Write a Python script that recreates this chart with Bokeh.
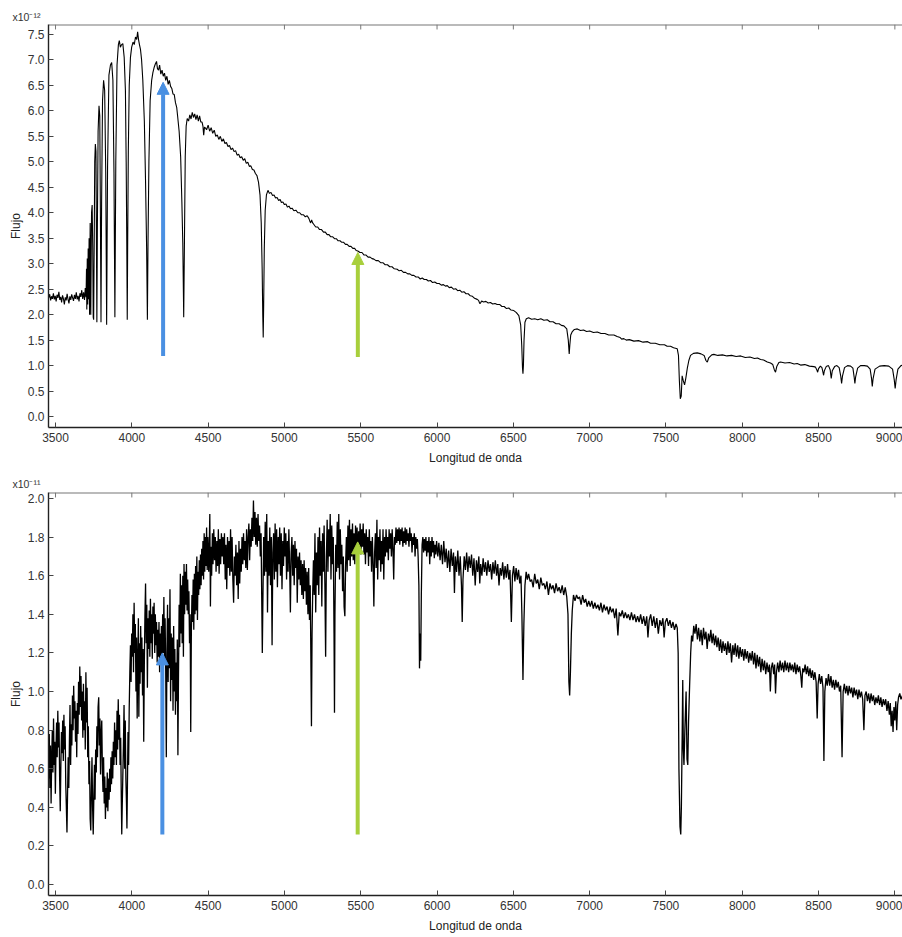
from bokeh.plotting import figure
from bokeh.models import Range1d, FixedTicker, Title, Arrow, NormalHead, PrintfTickFormatter
from bokeh.layouts import column
from bokeh.embed import file_html
from bokeh.resources import INLINE

FONT = "Liberation Sans"

# ---------------- data ----------------
x_ticks = [3500, 4000, 4500, 5000, 5500, 6000, 6500, 7000, 7500, 8000, 8500, 9000]
top_y_ticks = [0.0, 0.5, 1.0, 1.5, 2.0, 2.5, 3.0, 3.5, 4.0, 4.5, 5.0, 5.5, 6.0, 6.5, 7.0, 7.5]
bot_y_ticks = [0.0, 0.2, 0.4, 0.6, 0.8, 1.0, 1.2, 1.4, 1.6, 1.8, 2.0]
x_label = "Longitud de onda"
y_label = "Flujo"
top_exponent = "-12"
bot_exponent = "-11"

# top spectrum (x1e-12): hot star with Balmer lines
top_uv = [(3455,2.33),(3462,2.40),(3468,2.28),(3474,2.36),(3480,2.31),(3486,2.42),(3492,2.30),(3498,2.37),
          (3504,2.26),(3510,2.39),(3516,2.33),(3522,2.45),(3528,2.29),(3534,2.35),(3540,2.24),(3546,2.38),
          (3552,2.31),(3558,2.20),(3564,2.34),(3570,2.28),(3576,2.41),(3582,2.30),(3588,2.22),(3594,2.36),
          (3600,2.29),(3606,2.40),(3612,2.33),(3618,2.27),(3624,2.39),(3630,2.31),(3636,2.44),(3642,2.30),
          (3648,2.37),(3654,2.26),(3660,2.42),(3666,2.35),(3672,2.48),(3678,2.31),(3684,2.44),(3690,2.29),
          (3695,2.52),(3700,2.34)]
top_balmer = [(3703,2.9),(3705,2.1),(3708,3.1),(3711,2.2),(3714,3.3),(3717,2.3),(3720,3.5),(3723,2.0),
              (3727,3.8),(3731,2.0),(3736,4.0),(3740,4.15),(3744,3.3),(3747,1.95),(3750,1.9),(3753,3.2),
              (3757,5.0),(3761,5.35),(3765,5.2),(3768,3.5),(3771,1.85),(3774,3.6),(3779,5.6),(3785,6.1),
              (3790,5.9),(3794,4.0),(3798,1.85),(3802,4.2),(3808,6.2),(3815,6.6),(3822,6.4),(3829,4.8),
              (3835,1.8),(3841,4.9),(3850,6.7),(3860,6.9),(3868,6.95),(3876,6.6),(3883,4.8),(3889,1.95),
              (3895,5.0),(3903,6.9),(3912,7.3),(3918,7.38),(3925,7.25),(3933,7.3),(3941,7.32),(3950,7.05),
              (3958,6.4),(3963,5.0),(3967,3.4),(3970,1.9),(3973,3.5),(3977,5.2),(3983,6.5),(3991,7.05),
              (3999,7.25),(4008,7.35),(4016,7.3),(4024,7.45),(4032,7.4),(4038,7.55),(4044,7.4),(4050,7.3),
              (4057,7.2),(4064,7.0),(4072,6.6),(4082,5.8),(4090,4.6),(4097,3.3),(4102,1.9),(4106,3.4),
              (4112,5.0),(4120,6.2),(4130,6.6),(4138,6.75),(4146,6.85),(4154,6.92),(4162,6.97),(4168,6.83),
              (4175,6.8),(4182,6.9),(4190,6.72),(4198,6.8),(4206,6.68),(4214,6.74),(4222,6.6),(4230,6.68),
              (4238,6.52),(4246,6.6),(4254,6.48),(4262,6.44),(4270,6.33),(4278,6.32),(4286,6.16),(4294,6.07),
              (4300,5.9),(4310,5.6),(4320,5.1),(4328,4.2),(4334,3.4),(4340,1.95),(4345,3.5),(4350,5.1),
              (4356,5.7),(4363,5.85),(4372,5.8),(4380,5.92),(4388,5.84),(4396,5.97),(4404,5.87),(4412,5.94),
              (4420,5.83),(4428,5.92),(4436,5.8),(4444,5.9),(4452,5.78),(4460,5.78),(4466,5.7),(4471,5.52),
              (4476,5.68),(4483,5.66)]
top_visible = [(4490,5.63),(4500,5.72),(4510,5.60),(4520,5.67),(4530,5.56),(4540,5.62),(4550,5.50),(4560,5.53),
               (4570,5.44),(4580,5.50),(4590,5.40),(4600,5.45),(4610,5.36),(4620,5.38),(4630,5.30),(4640,5.32),
               (4650,5.24),(4660,5.27),(4670,5.20),(4680,5.22),(4690,5.13),(4700,5.15),(4710,5.08),(4720,5.10),
               (4730,5.03),(4740,5.06),(4750,4.97),(4760,4.99),(4770,4.91),(4780,4.92),(4790,4.85),(4800,4.84),
               (4810,4.77),(4820,4.73),(4830,4.60),(4840,4.35),(4848,3.80),(4854,2.90),(4858,2.00),(4861,1.55),
               (4864,2.20),(4868,3.30),(4874,4.05),(4882,4.35),(4892,4.44),(4902,4.38),(4912,4.40),(4922,4.34),
               (4932,4.35),(4942,4.29),(4952,4.30),(4962,4.24),(4972,4.26),(4980,4.20),(4990,4.21),(5000,4.16),
               (5010,4.17),(5020,4.11),(5030,4.13),(5040,4.08),(5050,4.09),(5062,4.04),(5075,4.05),(5088,4.00),
               (5100,4.00),(5112,3.96),(5125,3.96),(5137,3.92),(5149,3.94),(5160,3.89),(5166,3.84),(5172,3.80),
               (5178,3.86),(5185,3.80),(5193,3.77),(5205,3.72),(5218,3.72),(5230,3.67),(5243,3.67),(5256,3.62),
               (5268,3.62),(5280,3.57),(5292,3.57),(5302,3.53),(5315,3.53),(5328,3.49),(5340,3.49),(5352,3.45),
               (5364,3.45),(5376,3.42),(5388,3.42),(5400,3.38),(5411,3.38),(5424,3.34),(5436,3.34),(5448,3.30),
               (5460,3.30),(5470,3.26),(5481,3.25),(5495,3.22),(5508,3.22),(5522,3.17),(5535,3.17),(5548,3.13),
               (5561,3.13),(5574,3.10),(5586,3.09),(5600,3.06),(5615,3.06),(5630,3.02),(5645,3.02),(5660,2.98),
               (5675,2.98),(5690,2.94),(5705,2.94),(5720,2.90),(5739,2.89),(5752,2.86),(5766,2.87),(5780,2.83),
               (5794,2.83),(5808,2.80),(5822,2.80),(5835,2.77),(5848,2.77),(5862,2.74),(5876,2.74),(5890,2.70),
               (5903,2.72),(5916,2.69),(5930,2.69),(5943,2.66),(5957,2.67),(5971,2.63),(5985,2.64),(6000,2.61),
               (6014,2.61),(6028,2.58),(6042,2.59),(6055,2.56),(6067,2.57),(6080,2.53),(6094,2.54),(6108,2.50),
               (6122,2.51),(6135,2.47),(6149,2.48),(6162,2.44),(6176,2.45),(6190,2.41),(6204,2.41),(6218,2.37),
               (6232,2.36),(6246,2.32),(6263,2.30),(6272,2.28),(6280,2.22),(6285,2.23),(6292,2.27),(6305,2.25),
               (6320,2.26),(6335,2.23),(6350,2.24),(6365,2.21),(6380,2.22),(6394,2.20),(6410,2.20),(6425,2.16),
               (6440,2.16),(6455,2.12),(6470,2.13),(6485,2.09),(6503,2.08),(6520,2.04),(6536,1.98),(6548,1.80),
               (6555,1.40),(6560,0.95),(6563,0.84),(6566,1.00),(6570,1.50),(6576,1.85),(6585,1.92),(6600,1.94),
               (6620,1.91),(6640,1.92),(6660,1.90),(6680,1.92),(6700,1.89),(6722,1.90),(6740,1.86),(6760,1.86),
               (6780,1.82),(6800,1.82),(6815,1.79),(6831,1.78),(6850,1.72),(6860,1.50),(6866,1.23),(6870,1.40),
               (6876,1.60),(6885,1.66),(6900,1.71),(6919,1.72),(6940,1.69),(6960,1.70),(6980,1.67),(7000,1.68),
               (7025,1.65),(7050,1.66),(7075,1.63),(7100,1.63),(7125,1.60),(7159,1.60),(7180,1.57),(7200,1.55),
               (7210,1.52),(7224,1.53),(7240,1.50),(7260,1.51),(7290,1.48),(7320,1.49),(7350,1.46),(7380,1.47),
               (7399,1.44),(7430,1.44),(7460,1.41),(7490,1.41),(7508,1.38),(7530,1.38),(7550,1.35),(7574,1.33)]
top_red = [(7582,1.20),(7588,0.70),(7594,0.35),(7600,0.40),(7606,0.80),(7614,0.70),(7622,0.62),(7630,0.75),
           (7640,0.95),(7650,1.10),(7661,1.20),(7680,1.24),(7705,1.25),(7730,1.23),(7750,1.20),(7762,1.10),
           (7771,1.07),(7780,1.15),(7800,1.21),(7814,1.22),(7840,1.20),(7870,1.21),(7900,1.19),(7930,1.20),
           (7960,1.18),(7989,1.19),(8020,1.16),(8050,1.17),(8080,1.14),(8100,1.15),(8120,1.12),(8140,1.11),
           (8164,1.07),(8185,1.05),(8200,1.02),(8210,0.92),(8218,0.87),(8226,0.98),(8240,1.06),(8251,1.07),
           (8280,1.05),(8310,1.06),(8340,1.03),(8360,1.04),(8382,1.01),(8410,1.02),(8440,0.99),(8469,0.98),
           (8480,0.97),(8488,0.92),(8494,0.87),(8500,0.94),(8512,0.99),(8522,0.96),(8528,0.88),(8533,0.81),
           (8538,0.90),(8550,0.98),(8565,1.00),(8576,0.92),(8583,0.75),(8590,0.90),(8605,0.98),(8620,1.00),
           (8635,0.96),(8645,0.80),(8651,0.65),(8657,0.80),(8670,0.96),(8690,1.00),(8710,0.99),(8725,0.95),
           (8733,0.78),(8738,0.65),(8743,0.78),(8756,0.95),(8775,1.00),(8800,1.00),(8820,0.99),(8838,0.93),
           (8847,0.75),(8852,0.59),(8857,0.74),(8870,0.93),(8900,0.99),(8930,1.00),(8960,0.99),(8985,0.93),
           (8996,0.72),(9002,0.55),(9008,0.72),(9020,0.93),(9040,1.00),(9060,1.01)]

# bottom spectrum (x1e-11): cool star with many metal lines
bot_uv = [(3455,0.55),(3459,0.78),(3463,0.50),(3467,0.72),(3471,0.42),(3475,0.66),(3479,0.80),(3483,0.58),
          (3487,0.86),(3491,0.62),(3495,0.74),(3499,0.47),(3503,0.70),(3507,0.84),(3511,0.66),(3515,0.90),
          (3519,0.71),(3523,0.84),(3527,0.55),(3531,0.38),(3535,0.62),(3539,0.79),(3543,0.68),(3547,0.85),
          (3551,0.64),(3555,0.88),(3559,0.70),(3563,0.82),(3567,0.52),(3571,0.40),(3575,0.27),(3579,0.48),
          (3583,0.66),(3587,0.50),(3591,0.74),(3595,0.93),(3599,0.62),(3603,0.83),(3607,0.72),(3611,0.98),
          (3615,0.80),(3619,1.03),(3623,0.86),(3627,0.95),(3631,0.74),(3635,0.90),(3639,0.66),(3643,0.94),
          (3647,0.78),(3651,1.05),(3655,0.88),(3659,1.13),(3663,0.92),(3667,1.08),(3671,0.85),(3675,1.00),
          (3679,0.76),(3683,1.04),(3687,0.80),(3691,0.95),(3695,0.70),(3699,1.10),(3703,0.84),(3707,1.02),
          (3711,0.66),(3715,0.82),(3719,0.52),(3723,0.64),(3727,0.34),(3731,0.28),(3735,0.50),(3739,0.66),
          (3743,0.40),(3747,0.26),(3751,0.45),(3755,0.62),(3759,0.44),(3763,0.70),(3767,0.58),(3771,0.82),
          (3775,0.66),(3779,0.92),(3783,0.97),(3787,0.72),(3791,0.86),(3795,0.57),(3799,0.78),(3803,0.85),
          (3807,0.60),(3811,0.48),(3815,0.66),(3819,0.42),(3823,0.56),(3827,0.34),(3831,0.50),(3835,0.40),
          (3839,0.58),(3843,0.38),(3847,0.55),(3851,0.44),(3855,0.60),(3859,0.48),(3863,0.66),(3867,0.52),
          (3871,0.69),(3875,0.55),(3879,0.74),(3883,0.62),(3887,0.84),(3891,0.66),(3895,0.80),(3899,0.62),
          (3903,0.90),(3907,0.70),(3911,0.96),(3915,0.75),(3919,0.88),(3923,0.62),(3927,0.76),(3931,0.45),
          (3934,0.26),(3937,0.40),(3941,0.56),(3945,0.72),(3949,0.93),(3953,0.60),(3957,0.85),(3961,0.55),
          (3965,0.42),(3968,0.29),(3971,0.50),(3975,0.79),(3979,0.62),(3983,0.92),(3987,1.10),(3991,1.24),
          (3995,1.05),(3999,1.30)]
bot_blue = [(4003,1.18),(4007,1.40),(4011,1.10),(4015,1.46),(4019,1.20),(4023,1.35),(4027,1.00),(4031,1.28),
            (4035,0.86),(4039,1.15),(4043,1.38),(4046,0.87),(4050,1.25),(4054,1.04),(4058,1.34),(4062,1.10),
            (4066,1.28),(4070,0.98),(4074,1.22),(4078,0.74),(4082,1.15),(4086,1.40),(4090,1.56),(4094,1.25),
            (4098,1.45),(4102,1.02),(4106,1.38),(4110,1.22),(4114,1.42),(4118,1.18),(4122,1.48),(4126,1.25),
            (4130,1.40),(4134,1.17),(4138,1.44),(4142,1.30),(4146,1.46),(4150,1.20),(4154,1.40),(4158,1.24),
            (4162,1.36),(4166,1.15),(4170,1.32),(4174,1.18),(4178,1.36),(4182,1.10),(4186,1.30),(4190,1.16),
            (4194,1.34),(4198,1.12),(4202,1.40),(4206,1.20),(4210,1.49),(4214,1.15),(4218,1.38),(4222,1.11),
            (4226,0.66),(4230,1.20),(4234,1.45),(4238,1.05),(4242,1.38),(4246,1.12),(4250,1.53),(4254,0.95),
            (4258,1.30),(4262,1.06),(4266,1.28),(4270,0.90),(4274,1.34),(4278,1.00),(4282,1.22),(4286,0.88),
            (4290,1.15),(4294,0.95),(4298,1.27),(4302,0.67),(4306,1.10),(4310,1.45),(4314,1.23),(4318,1.61),
            (4322,1.30),(4326,1.55),(4330,1.25),(4334,1.60),(4338,1.18),(4342,1.66),(4346,1.40),(4350,1.62),
            (4354,1.45),(4358,1.66),(4362,1.42),(4366,1.58),(4370,1.40),(4374,1.52),(4378,1.25),(4382,1.40),
            (4386,0.79),(4390,1.30),(4394,1.50),(4398,1.36),(4402,1.58),(4406,1.32),(4410,1.61),(4414,1.40),
            (4418,1.65),(4422,1.42),(4426,1.70),(4430,1.37),(4434,1.62),(4438,1.50),(4442,1.68),(4446,1.53),
            (4450,1.71),(4454,1.55),(4458,1.74),(4462,1.60),(4466,1.78),(4470,1.58),(4474,1.82),(4478,1.62),
            (4482,1.80),(4486,1.65),(4490,1.85),(4494,1.63),(4498,1.80)]
bot_green = [(4504,1.62),(4508,1.78),(4511,1.92),(4515,1.44),(4519,1.75),(4523,1.60),(4528,1.82),(4532,1.66),
             (4537,1.84),(4542,1.68),(4547,1.80),(4552,1.62),(4557,1.78),(4562,1.65),(4567,1.84),(4572,1.61),
             (4577,1.79),(4582,1.66),(4587,1.82),(4592,1.70),(4597,1.80),(4602,1.66),(4607,1.82),(4612,1.58),
             (4617,1.76),(4622,1.53),(4627,1.80),(4632,1.64),(4637,1.78),(4642,1.60),(4647,1.84),(4652,1.62),
             (4657,1.80),(4662,1.58),(4667,1.46),(4672,1.70),(4677,1.60),(4682,1.76),(4687,1.55),(4692,1.72),
             (4697,1.48),(4702,1.78),(4707,1.56),(4712,1.74),(4717,1.62),(4722,1.80),(4727,1.66),(4732,1.82),
             (4737,1.68),(4742,1.78),(4747,1.64),(4752,1.84),(4757,1.63),(4762,1.80),(4767,1.87),(4772,1.68),
             (4777,1.84),(4782,1.75),(4787,1.90),(4792,1.78),(4797,1.99),(4802,1.80),(4807,1.93),(4812,1.76),
             (4817,1.90),(4822,1.75),(4827,1.92),(4832,1.78),(4837,1.86),(4842,1.70),(4847,1.82),(4851,1.50),
             (4855,1.20),(4859,1.48),(4864,1.80),(4869,1.60),(4874,1.88),(4879,1.62),(4884,1.92),(4889,1.41),
             (4894,1.78),(4899,1.60),(4904,1.85),(4909,1.55),(4914,1.80),(4919,1.24),(4924,1.72),(4929,1.82),
             (4934,1.58),(4939,1.87),(4944,1.62),(4949,1.84),(4954,1.54),(4959,1.80),(4964,1.66),(4969,1.85),
             (4974,1.60),(4979,1.82),(4984,1.53),(4989,1.78),(4994,1.65),(4999,1.85),
             (5004,1.70),(5009,1.82),(5014,1.58),(5019,1.78),(5024,1.62),(5029,1.84),(5034,1.66),(5039,1.41),
             (5044,1.72),(5049,1.80),(5054,1.60),(5059,1.76),(5064,1.55),(5069,1.78),(5074,1.64),(5079,1.74),
             (5084,1.46),(5089,1.70),(5094,1.58),(5099,1.72),(5104,1.55),(5109,1.68),(5114,1.50),(5119,1.66),
             (5124,1.48),(5129,1.68),(5134,1.52),(5139,1.64),(5144,1.45),(5149,1.62),(5154,1.40),(5159,1.64),
             (5164,1.37),(5169,1.55),(5173,1.20),(5177,0.82),(5181,1.30),(5185,1.50),(5190,1.68),(5195,1.50),
             (5200,1.82),(5205,1.41),(5210,1.72),(5215,1.55),(5220,1.80),(5225,1.50),(5230,1.85),(5235,1.60),
             (5240,1.78),(5245,1.44),(5250,1.82),(5255,1.62),(5260,1.86),(5265,1.56),(5270,1.18),(5275,1.70),
             (5280,1.89),(5285,1.62),(5290,1.84),(5295,1.70),(5300,1.92),(5305,1.58),(5310,1.86),(5315,1.66),
             (5320,1.80),(5325,1.30),(5328,0.89),(5331,1.40),(5336,1.76),(5341,1.62),(5346,1.88),(5351,1.64),
             (5356,1.92),(5361,1.58),(5366,1.84),(5371,1.66),(5376,1.76),(5381,1.52),(5386,1.70),(5391,1.44),
             (5396,1.39),(5401,1.66),(5406,1.80),(5411,1.62),(5416,1.86),(5421,1.68),(5426,1.89),(5431,1.65),
             (5436,1.84),(5441,1.70),(5446,1.87),(5451,1.68),(5456,1.82),(5461,1.66),(5466,1.86),(5471,1.72),
             (5476,1.85),(5481,1.67),(5486,1.83),(5491,1.74),(5496,1.87),(5501,1.71),(5506,1.84),(5511,1.75),
             (5516,1.87),(5521,1.71),(5526,1.82),(5531,1.66),(5536,1.84),(5541,1.72),(5546,1.80),(5551,1.65),
             (5556,1.84),(5561,1.70),(5566,1.78),(5571,1.62),(5576,1.80),(5581,1.66),(5586,1.44),(5591,1.72),
             (5596,1.82),(5601,1.64),(5606,1.89),(5611,1.58),(5616,1.80),(5621,1.68),(5626,1.84),(5631,1.62),
             (5636,1.78),(5641,1.66),(5646,1.84),(5651,1.58),(5656,1.80),(5661,1.70),(5666,1.84),(5671,1.72),
             (5676,1.80),(5681,1.68),(5686,1.84),(5691,1.74),(5696,1.82),(5701,1.70),(5706,1.84),(5711,1.74),
             (5716,1.58),(5721,1.80),(5726,1.76),(5731,1.85),(5736,1.77),(5741,1.84),(5746,1.78),(5751,1.85),
             (5756,1.76),(5761,1.84),(5766,1.78),(5771,1.85),(5776,1.75),(5781,1.83),(5786,1.77),(5791,1.85),
             (5796,1.76),(5801,1.84),(5806,1.78),(5811,1.82),(5816,1.75),(5821,1.85),(5826,1.78),(5831,1.82),
             (5836,1.72),(5841,1.80),(5846,1.76),(5851,1.82),(5856,1.70),(5861,1.80),(5866,1.74),(5871,1.79),
             (5876,1.70),(5881,1.55),(5885,1.12),(5889,1.30),(5893,1.16),(5897,1.50),(5902,1.76),(5907,1.80),
             (5912,1.72),(5917,1.79),(5922,1.73),(5927,1.80),(5932,1.70),(5937,1.78),(5942,1.72),(5947,1.80),
             (5952,1.66),(5957,1.78),(5962,1.70),(5967,1.80),(5972,1.72),(5977,1.78),(5982,1.69),(5987,1.76),
             (5992,1.71),(5997,1.78)]
bot_red = [(6005,1.70),(6012,1.77),(6020,1.68),(6028,1.76),(6036,1.66),(6044,1.78),(6052,1.67),(6060,1.74),
           (6068,1.64),(6076,1.73),(6084,1.62),(6092,1.74),(6100,1.65),(6108,1.72),(6114,1.51),(6120,1.70),
           (6128,1.62),(6136,1.73),(6144,1.60),(6152,1.70),(6160,1.55),(6165,1.36),(6170,1.58),(6178,1.70),
           (6186,1.63),(6194,1.72),(6202,1.62),(6210,1.70),(6218,1.64),(6226,1.71),(6234,1.60),(6242,1.69),
           (6250,1.55),(6258,1.68),(6266,1.62),(6274,1.70),(6280,1.56),(6286,1.66),(6294,1.60),(6302,1.69),
           (6310,1.62),(6318,1.67),(6326,1.60),(6334,1.68),(6342,1.62),(6350,1.66),(6358,1.58),(6366,1.67),
           (6374,1.61),(6382,1.68),(6390,1.60),(6398,1.66),(6406,1.55),(6414,1.64),(6422,1.60),(6430,1.67),
           (6438,1.58),(6446,1.65),(6454,1.59),(6462,1.66),(6470,1.58),(6478,1.63),(6487,1.36),(6494,1.60),
           (6502,1.65),(6510,1.57),(6518,1.64),(6526,1.58),(6534,1.63),(6542,1.56),(6550,1.60),(6556,1.40),
           (6563,1.06),(6569,1.35),(6576,1.55),(6584,1.62),(6592,1.58),(6600,1.61),(6610,1.57),(6620,1.58),
           (6630,1.54),(6640,1.61),(6650,1.56),(6660,1.58),(6670,1.53),(6680,1.59),(6690,1.55),(6700,1.56),
           (6710,1.53),(6720,1.57),(6730,1.50),(6740,1.56),(6750,1.53),(6760,1.55),(6770,1.51),(6780,1.56),
           (6790,1.52),(6800,1.54),(6810,1.51),(6820,1.55),(6830,1.50),(6840,1.54),(6850,1.49),(6858,1.40),
           (6864,1.05),(6869,0.98),(6874,1.10),(6880,1.30),(6886,1.42),(6894,1.50),(6904,1.47),(6914,1.50),
           (6924,1.48),(6934,1.49),(6944,1.45),(6954,1.50),(6964,1.46),(6974,1.48),(6984,1.44),(6994,1.47),
           (7004,1.44),(7014,1.47),(7024,1.43),(7034,1.46),(7044,1.43),(7054,1.45),(7064,1.42),(7074,1.46),
           (7084,1.41),(7094,1.45),(7104,1.42),(7114,1.44),(7124,1.40),(7134,1.44),(7144,1.41),(7154,1.43),
           (7164,1.38),(7174,1.43),(7185,1.29),(7194,1.41),(7204,1.39),(7214,1.42),(7224,1.38),(7234,1.41),
           (7244,1.38),(7254,1.40),(7264,1.37),(7274,1.41),(7284,1.37),(7294,1.40),(7304,1.36),(7314,1.39),
           (7324,1.36),(7334,1.40),(7344,1.35),(7354,1.39),(7364,1.34),(7374,1.39),(7382,1.28),(7390,1.37),
           (7400,1.40),(7410,1.34),(7420,1.39),(7430,1.33),(7440,1.38),(7450,1.30),(7460,1.37),(7470,1.34),
           (7480,1.38),(7488,1.28),(7496,1.36),(7506,1.38),(7516,1.34),(7526,1.37),(7536,1.33),(7546,1.36),
           (7556,1.32),(7566,1.35),(7574,1.33),(7580,1.20)]
bot_ir = [(7585,0.60),(7592,0.30),(7597,0.26),(7601,0.40),(7606,0.75),(7610,1.06),(7614,0.70),(7618,0.62),
          (7624,0.80),(7632,1.00),(7638,0.65),(7643,0.62),(7648,0.84),(7655,1.03),(7662,1.20),(7668,1.29),
          (7675,1.26),(7682,1.34),(7690,1.30),(7698,1.35),(7706,1.27),(7714,1.33),(7722,1.26),(7730,1.32),
          (7738,1.24),(7746,1.33),(7754,1.27),(7762,1.31),(7770,1.22),(7778,1.30),(7786,1.26),(7794,1.32),
          (7802,1.25),(7810,1.30),(7818,1.24),(7826,1.29),(7834,1.23),(7842,1.28),(7850,1.21),(7858,1.27),
          (7866,1.20),(7874,1.26),(7882,1.21),(7890,1.25),(7898,1.19),(7906,1.26),(7914,1.20),(7922,1.25),
          (7930,1.15),(7938,1.24),(7946,1.19),(7954,1.25),(7962,1.18),(7970,1.24),(7978,1.17),(7986,1.23),
          (7994,1.18),(8002,1.22),(8010,1.16),(8018,1.22),(8026,1.17),(8034,1.21),(8042,1.15),(8050,1.20),
          (8058,1.16),(8066,1.21),(8074,1.14),(8082,1.20),(8090,1.12),(8098,1.19),(8106,1.13),(8114,1.18),
          (8122,1.10),(8130,1.17),(8138,1.11),(8146,1.16),(8154,1.09),(8162,1.15),(8170,1.10),(8178,1.14),
          (8184,1.00),(8190,1.12),(8198,1.15),(8206,1.09),(8212,1.14),(8218,0.99),(8224,1.10),(8232,1.15),
          (8240,1.10),(8248,1.16),(8256,1.11),(8264,1.15),(8272,1.10),(8280,1.16),(8288,1.11),(8296,1.15),
          (8304,1.10),(8312,1.15),(8320,1.11),(8328,1.14),(8336,1.10),(8344,1.15),(8352,1.09),(8360,1.14),
          (8368,1.10),(8376,1.13),(8384,1.08),(8390,1.02),(8396,1.12),(8404,1.10),(8412,1.14),(8420,1.09),
          (8428,1.13),(8436,1.08),(8444,1.12),(8452,1.07),(8460,1.11),(8468,1.06),(8476,1.10),(8484,1.05),
          (8491,0.86),(8497,1.04),(8505,1.09),(8513,1.04),(8521,1.08),(8529,1.02),(8535,0.64),(8541,1.00),
          (8549,1.07),(8557,1.03),(8565,1.09),(8573,1.03),(8581,1.08),(8589,1.02),(8597,1.06),(8605,1.01),
          (8613,1.06),(8621,1.02),(8629,1.05),(8637,1.00),(8645,1.03),(8654,0.66),(8661,1.00),(8669,1.04),
          (8677,0.99),(8685,1.03),(8693,0.98),(8701,1.03),(8709,0.99),(8717,1.02),(8725,0.97),(8733,1.02),
          (8741,0.98),(8749,1.01),(8757,0.96),(8765,1.01),(8773,0.97),(8781,1.00),(8789,0.96),(8797,0.80),
          (8804,0.98),(8812,1.00),(8820,0.95),(8828,0.99),(8836,0.94),(8844,0.99),(8852,0.95),(8860,0.98),
          (8868,0.93),(8876,0.97),(8884,0.94),(8892,0.98),(8900,0.93),(8908,0.97),(8916,0.92),(8924,0.96),
          (8932,0.93),(8940,0.96),(8948,0.90),(8956,0.95),(8964,0.88),(8970,0.94),(8976,0.82),(8982,0.90),
          (8988,0.79),(8994,0.92),(9000,0.85),(9006,0.95),(9012,0.80),(9018,0.93),(9024,0.97),(9032,0.99),
          (9040,0.96),(9050,0.98),(9060,0.97)]

# arrows: wavelength, base flux, tip flux, colour
top_arrows = [(4205, 1.19, 6.56, "#4a90e2"), (5481, 1.17, 3.22, "#a8cf3c")]
bot_arrows = [(4200, 0.26, 1.20, "#4a90e2"), (5480, 0.26, 1.775, "#a8cf3c")]

X_RANGE = (3454, 9050)
WIDTH = 902
LEFT = 48
SUPERSCRIPT = str.maketrans("-0123456789", "\u207b\u2070\u00b9\u00b2\u00b3\u2074\u2075\u2076\u2077\u2078\u2079")


def split(*segments):
    pts = sorted(pt for seg in segments for pt in seg)
    return [a for a, _ in pts], [b for _, b in pts]


def panel(wl, fl, height, b_top, b_bottom, yr, yticks, exponent, exp_standoff, arrows, lw):
    p = figure(width=WIDTH, height=height, output_backend="svg", toolbar_location=None,
               x_range=Range1d(*X_RANGE), y_range=Range1d(*yr),
               min_border_left=LEFT, min_border_right=0,
               min_border_top=b_top, min_border_bottom=b_bottom)
    p.outline_line_color = None
    p.grid.visible = False
    p.background_fill_color = "white"
    p.border_fill_color = "white"
    p.line(wl, fl, line_color="black", line_width=lw)

    for ax in (p.xaxis[0], p.yaxis[0]):
        ax.major_tick_in = 5
        ax.major_tick_out = 0
        ax.minor_tick_line_color = None
        ax.axis_line_color = "#222222"
        ax.axis_line_width = 1.4
        ax.major_tick_line_color = "#444444"
        ax.major_label_text_font = FONT
        ax.major_label_text_font_size = "12px"
        ax.major_label_text_color = "#333333"
        ax.axis_label_text_font = FONT
        ax.axis_label_text_font_size = "12px"
        ax.axis_label_text_font_style = "normal"
        ax.axis_label_text_color = "#222222"
    p.xaxis.ticker = FixedTicker(ticks=x_ticks)
    p.xaxis.formatter = PrintfTickFormatter(format="%d")
    p.xaxis.axis_label = x_label
    p.xaxis.major_label_standoff = 5
    p.xaxis.axis_label_standoff = 6
    p.yaxis.ticker = FixedTicker(ticks=yticks)
    p.yaxis.formatter = PrintfTickFormatter(format="%.1f")
    p.yaxis.axis_label = y_label
    p.yaxis.major_label_standoff = 4
    p.yaxis.axis_label_standoff = 2

    frame_h = height - b_top - b_bottom
    ppu_y = frame_h / (yr[1] - yr[0])

    # top frame border with inward ticks
    p.segment(x0=[X_RANGE[0]], y0=[yr[1]], x1=[X_RANGE[1]], y1=[yr[1]],
              line_color="#777777", line_width=2)
    p.segment(x0=x_ticks, y0=[yr[1]] * len(x_ticks), x1=x_ticks,
              y1=[yr[1] - 5 / ppu_y] * len(x_ticks), line_color="#777777", line_width=1)

    # axis multiplier written above the y axis: x10 with a raised exponent
    p.add_layout(Title(text="x10" + exponent.translate(SUPERSCRIPT), align="left", offset=-36,
                       standoff=exp_standoff, vertical_align="bottom", text_font=FONT,
                       text_font_size="10.5px", text_font_style="normal",
                       text_color="#333333"), "above")

    for xa, y0, y1, col in arrows:
        p.add_layout(Arrow(end=NormalHead(size=12, fill_color=col, line_color=col),
                           x_start=xa, y_start=y0, x_end=xa, y_end=y1,
                           line_color=col, line_width=4))
    return p


twl, tfl = split(top_uv, top_balmer, top_visible, top_red)
bwl, bfl = split(bot_uv, bot_blue, bot_green, bot_red, bot_ir)

p1 = panel(twl, tfl, 467, 24, 38, (-0.215, 7.695), top_y_ticks, top_exponent, 4, top_arrows, 1.1)
p2 = panel(bwl, bfl, 468, 25, 37, (-0.0566, 2.031), bot_y_ticks, bot_exponent, 6, bot_arrows, 1.3)

layout = column(p1, p2, spacing=0)
open("out.html", "w").write(file_html(layout, INLINE))
